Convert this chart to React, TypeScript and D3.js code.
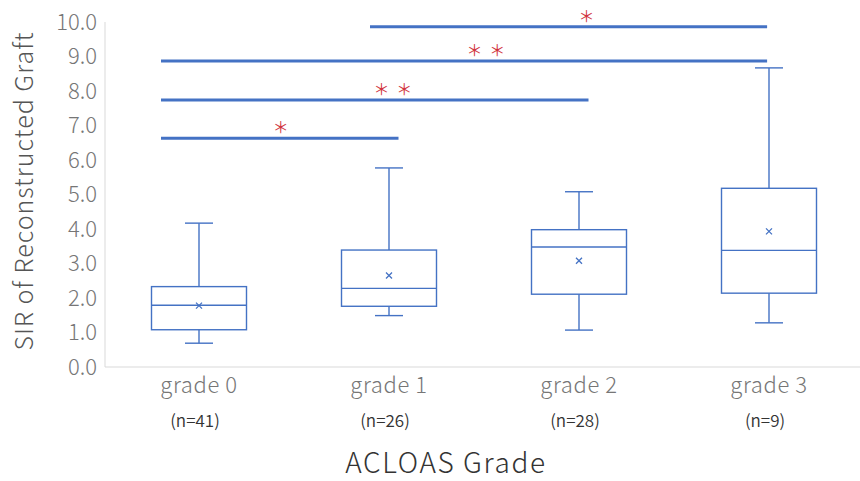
import React from "react";
import * as d3 from "d3";

const grades = ["grade 0", "grade 1", "grade 2", "grade 3"];
const counts = ["(n=41)", "(n=26)", "(n=28)", "(n=9)"];
const whiskerLow = [0.69, 1.49, 1.07, 1.28];
const q1 = [1.08, 1.76, 2.11, 2.14];
const median = [1.79, 2.28, 3.48, 3.38];
const q3 = [2.33, 3.39, 3.98, 5.18];
const whiskerHigh = [4.17, 5.77, 5.08, 8.67];
const means = [1.78, 2.65, 3.08, 3.93];
const yTicks = [0, 1, 2, 3, 4, 5, 6, 7, 8, 9, 10];

// significance brackets, in category units (0 = grade 0 ... 3 = grade 3)
const sigFrom = [-0.2, -0.2, -0.2, 0.9];
const sigTo = [1.05, 2.05, 2.99, 2.99];
const sigLevel = [6.63, 7.74, 8.87, 9.86];
const sigStars = [[0.43], [0.96, 1.08], [1.45, 1.57], [2.04]];

const W = 860;
const H = 481;
const FONT = "'Noto Sans CJK JP', 'Noto Sans', sans-serif";
const BLUE = "#4472C4";

export default function App() {
  const x = d3.scaleLinear().domain([-0.5, 3.5]).range([104, 864]);
  const y = d3.scaleLinear().domain([0, 10]).range([367, 22]);
  const boxHalf = x(0.25) - x(0);
  const capHalf = 14;
  const fmt = d3.format(".1f");

  return (
    <svg
      width={W}
      height={H}
      style={{ position: "absolute", left: 0, top: 0, background: "#fff" }}
      fontFamily={FONT}
      fontWeight={300}
    >
      {/* axes */}
      <line x1={x(-0.5) + 1} x2={x(-0.5) + 1} y1={y(10)} y2={y(0)} stroke="#d9d9d9" strokeWidth={1} />
      <line x1={x(-0.5) + 1} x2={W} y1={y(0)} y2={y(0)} stroke="#d9d9d9" strokeWidth={1} />

      {yTicks.map((t) => (
        <text
          key={t}
          x={97}
          y={y(t)}
          dy="0.36em"
          textAnchor="end"
          fontSize={22}
          fill="#767676"
        >
          {fmt(t)}
        </text>
      ))}

      <text
        transform={`translate(24, ${y(5.1)}) rotate(-90)`}
        textAnchor="middle"
        dy="0.36em"
        fontSize={25}
        letterSpacing={1}
        fill="#555"
      >
        SIR of Reconstructed Graft
      </text>

      {/* boxes */}
      {grades.map((g, i) => {
        const cx = x(i);
        return (
          <g key={g} stroke={BLUE} fill="none" strokeWidth={1.4}>
            <line x1={cx} x2={cx} y1={y(whiskerHigh[i])} y2={y(q3[i])} />
            <line x1={cx} x2={cx} y1={y(q1[i])} y2={y(whiskerLow[i])} />
            <line x1={cx - capHalf} x2={cx + capHalf} y1={y(whiskerHigh[i])} y2={y(whiskerHigh[i])} />
            <line x1={cx - capHalf} x2={cx + capHalf} y1={y(whiskerLow[i])} y2={y(whiskerLow[i])} />
            <rect
              x={cx - boxHalf}
              y={y(q3[i])}
              width={boxHalf * 2}
              height={y(q1[i]) - y(q3[i])}
            />
            <line x1={cx - boxHalf} x2={cx + boxHalf} y1={y(median[i])} y2={y(median[i])} />
            <path
              d={`M${cx - 3},${y(means[i]) - 3}L${cx + 3},${y(means[i]) + 3}M${cx - 3},${y(means[i]) + 3}L${cx + 3},${y(means[i]) - 3}`}
              strokeWidth={1.3}
            />
          </g>
        );
      })}

      {/* significance bars */}
      {sigLevel.map((lv, i) => (
        <g key={i}>
          <line
            x1={x(sigFrom[i])}
            x2={x(sigTo[i])}
            y1={y(lv)}
            y2={y(lv)}
            stroke={BLUE}
            strokeWidth={3}
          />
          {sigStars[i].map((s, j) => (
            <text
              key={j}
              x={x(s)}
              y={y(lv) - 11}
              dy="0.36em"
              textAnchor="middle"
              fontSize={16}
              fontWeight={400}
              fill="#d1343e"
            >
              ＊
            </text>
          ))}
        </g>
      ))}

      {/* category labels */}
      {grades.map((g, i) => (
        <text key={g} x={x(i)} y={385} dy="0.36em" textAnchor="middle" fontSize={22} letterSpacing={0.6} fill="#767676">
          {g}
        </text>
      ))}
      {counts.map((c, i) => (
        <text key={c} x={x(i) - 4} y={421} dy="0.36em" textAnchor="middle" fontSize={17} fontWeight={350} fill="#333">
          {c}
        </text>
      ))}

      <text x={446} y={463} dy="0.36em" textAnchor="middle" fontSize={28} letterSpacing={1.6} fill="#333">
        ACLOAS Grade
      </text>
    </svg>
  );
}
